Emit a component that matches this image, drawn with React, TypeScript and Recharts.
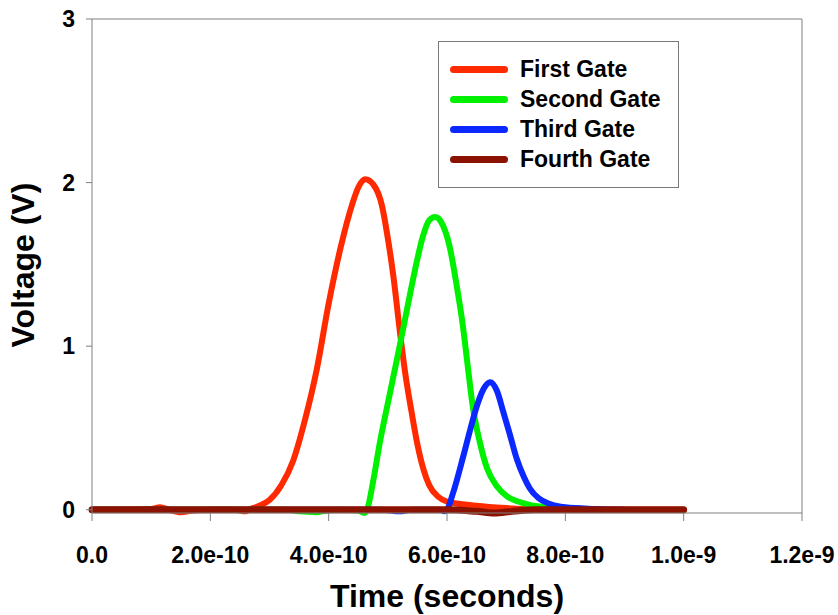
import React from 'react';
import { LineChart, Line, XAxis, YAxis, ReferenceLine } from 'recharts';

// time in seconds, voltage in volts
const firstGate = [
  { t: 0, v: 0 }, { t: 0.5e-10, v: 0 }, { t: 1.0e-10, v: 0.005 }, { t: 1.15e-10, v: 0.015 },
  { t: 1.3e-10, v: 0 }, { t: 1.5e-10, v: -0.015 }, { t: 1.7e-10, v: -0.005 }, { t: 2.0e-10, v: 0 },
  { t: 2.4e-10, v: 0 }, { t: 2.6e-10, v: -0.01 }, { t: 2.65e-10, v: 0 }, { t: 2.8e-10, v: 0.02 },
  { t: 3.0e-10, v: 0.06 }, { t: 3.2e-10, v: 0.15 }, { t: 3.4e-10, v: 0.3 }, { t: 3.6e-10, v: 0.55 },
  { t: 3.8e-10, v: 0.86 }, { t: 4.0e-10, v: 1.26 }, { t: 4.2e-10, v: 1.6 }, { t: 4.4e-10, v: 1.87 },
  { t: 4.5e-10, v: 1.97 }, { t: 4.62e-10, v: 2.02 }, { t: 4.75e-10, v: 1.99 }, { t: 4.9e-10, v: 1.86 },
  { t: 5.0e-10, v: 1.66 }, { t: 5.1e-10, v: 1.41 }, { t: 5.2e-10, v: 1.1 }, { t: 5.3e-10, v: 0.82 },
  { t: 5.4e-10, v: 0.6 }, { t: 5.5e-10, v: 0.4 }, { t: 5.6e-10, v: 0.25 }, { t: 5.7e-10, v: 0.15 },
  { t: 5.85e-10, v: 0.08 }, { t: 6.0e-10, v: 0.05 }, { t: 6.5e-10, v: 0.025 }, { t: 7.0e-10, v: 0.01 },
  { t: 7.5e-10, v: 0 }, { t: 1.0e-9, v: 0 },
];

const secondGate = [
  { t: 0, v: 0 }, { t: 3.3e-10, v: 0 }, { t: 3.5e-10, v: -0.01 }, { t: 3.8e-10, v: -0.015 },
  { t: 3.95e-10, v: -0.005 }, { t: 4.2e-10, v: 0 }, { t: 4.5e-10, v: -0.005 }, { t: 4.6e-10, v: -0.02 },
  { t: 4.65e-10, v: 0 }, { t: 4.75e-10, v: 0.17 }, { t: 4.87e-10, v: 0.42 }, { t: 5.0e-10, v: 0.65 },
  { t: 5.16e-10, v: 0.93 }, { t: 5.3e-10, v: 1.18 }, { t: 5.45e-10, v: 1.45 }, { t: 5.6e-10, v: 1.68 },
  { t: 5.7e-10, v: 1.77 }, { t: 5.8e-10, v: 1.79 }, { t: 5.9e-10, v: 1.76 }, { t: 6.05e-10, v: 1.6 },
  { t: 6.15e-10, v: 1.4 }, { t: 6.27e-10, v: 1.12 }, { t: 6.35e-10, v: 0.88 }, { t: 6.44e-10, v: 0.62 },
  { t: 6.55e-10, v: 0.42 }, { t: 6.68e-10, v: 0.25 }, { t: 6.85e-10, v: 0.14 }, { t: 7.02e-10, v: 0.08 },
  { t: 7.2e-10, v: 0.05 }, { t: 7.4e-10, v: 0.03 }, { t: 7.7e-10, v: 0.015 }, { t: 8.0e-10, v: 0.01 },
  { t: 8.5e-10, v: 0 },
];

const thirdGate = [
  { t: 0, v: 0 }, { t: 4.9e-10, v: 0 }, { t: 5.2e-10, v: -0.01 }, { t: 5.4e-10, v: 0 },
  { t: 5.9e-10, v: 0 }, { t: 5.95e-10, v: -0.01 }, { t: 6.0e-10, v: 0 }, { t: 6.1e-10, v: 0.1 },
  { t: 6.27e-10, v: 0.32 }, { t: 6.4e-10, v: 0.5 }, { t: 6.51e-10, v: 0.64 }, { t: 6.62e-10, v: 0.74 },
  { t: 6.73e-10, v: 0.78 }, { t: 6.84e-10, v: 0.73 }, { t: 6.95e-10, v: 0.6 }, { t: 7.07e-10, v: 0.45 },
  { t: 7.18e-10, v: 0.31 }, { t: 7.3e-10, v: 0.2 }, { t: 7.4e-10, v: 0.13 }, { t: 7.55e-10, v: 0.07 },
  { t: 7.74e-10, v: 0.035 }, { t: 8.0e-10, v: 0.015 }, { t: 8.5e-10, v: 0.005 }, { t: 9.0e-10, v: 0 },
];

const fourthGate = [
  { t: 0, v: 0 }, { t: 6.0e-10, v: 0 }, { t: 6.5e-10, v: -0.01 }, { t: 6.8e-10, v: -0.02 },
  { t: 7.1e-10, v: -0.01 }, { t: 7.5e-10, v: 0 }, { t: 1.0e-9, v: 0 },
];

const seriesNames = ['First Gate', 'Second Gate', 'Third Gate', 'Fourth Gate'];
const seriesColors = ['#ff2a00', '#00f000', '#0a28ff', '#8c1200'];
const seriesData = [firstGate, secondGate, thirdGate, fourthGate];

const timeTicks = [0, 2e-10, 4e-10, 6e-10, 8e-10, 1e-9, 1.2e-9];
const voltTicks = [0, 1, 2, 3];

const font = '"Liberation Sans", Arial, sans-serif';
const axisGrey = '#808080';

const fmtTime = (t: number) => (t === 0 ? '0.0' : t.toExponential(1));

export default function App() {
  return (
    <div style={{ position: 'relative', width: 838, height: 615, background: '#fff' }}>
      <style>{'body{margin:0}'}</style>
      <LineChart width={838} height={615} margin={{ top: 19, right: 36, bottom: 0, left: 0 }}>
        <XAxis
          dataKey="t"
          type="number"
          domain={[0, 1.2e-9]}
          ticks={timeTicks}
          tickFormatter={fmtTime}
          allowDuplicatedCategory={false}
          height={102}
          stroke={axisGrey}
          tickSize={8}
          tickMargin={26}
          tick={{ fill: '#000', fontSize: 23, fontWeight: 'bold', fontFamily: font }}
          label={{
            content: () => (
              <text x={447} y={607} textAnchor="middle" fontSize={32} fontWeight="bold" fontFamily={font} fill="#000">
                Time (seconds)
              </text>
            ),
          }}
        />
        <YAxis
          dataKey="v"
          type="number"
          domain={[0, 3]}
          ticks={voltTicks}
          width={92}
          stroke={axisGrey}
          tickSize={6}
          tickMargin={11}
          tick={{ fill: '#000', fontSize: 23, fontWeight: 'bold', fontFamily: font }}
          label={{
            content: () => (
              <text
                x={34}
                y={265}
                transform="rotate(-90 34 265)"
                textAnchor="middle"
                fontSize={32}
                fontWeight="bold"
                fontFamily={font}
                fill="#000"
              >
                Voltage (V)
              </text>
            ),
          }}
        />
        <ReferenceLine y={3} stroke={axisGrey} />
        <ReferenceLine x={1.2e-9} stroke={axisGrey} />
        {seriesData.map((d, i) => (
          <Line
            key={seriesNames[i]}
            data={d}
            dataKey="v"
            name={seriesNames[i]}
            type="monotone"
            stroke={seriesColors[i]}
            strokeWidth={i === 3 ? 7 : 6}
            strokeLinecap="round"
            strokeLinejoin="round"
            dot={false}
            activeDot={false}
            isAnimationActive={false}
          />
        ))}
      </LineChart>
      <div
        style={{
          position: 'absolute',
          left: 438,
          top: 41,
          width: 239,
          height: 133,
          border: '1px solid #7a7a7a',
          paddingTop: 12,
          boxSizing: 'content-box',
          fontFamily: font,
          fontWeight: 'bold',
          fontSize: 23,
        }}
      >
        {seriesNames.map((n, i) => (
          <div key={n} style={{ display: 'flex', alignItems: 'center', height: 30 }}>
            <div
              style={{
                marginLeft: 11,
                width: 58,
                height: 7,
                borderRadius: 4,
                background: seriesColors[i],
              }}
            />
            <span style={{ marginLeft: 12, color: '#000' }}>{n}</span>
          </div>
        ))}
      </div>
    </div>
  );
}
